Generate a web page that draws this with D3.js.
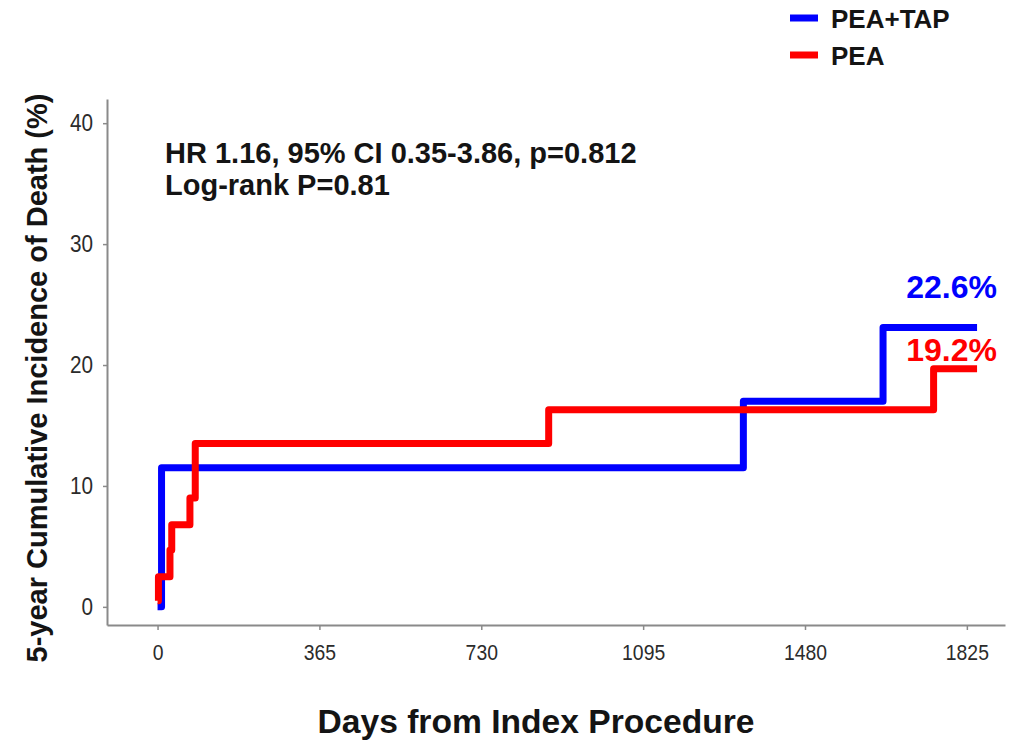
<!DOCTYPE html>
<html>
<head>
<meta charset="utf-8">
<script src="https://cdn.jsdelivr.net/npm/d3@7"></script>
<style>
  html, body { margin: 0; padding: 0; background: #ffffff; }
  svg { display: block; }
  text { font-family: "Liberation Sans", Arial, Helvetica, sans-serif; }
</style>
</head>
<body>
<svg id="chart" width="1010" height="746"></svg>
<script>
// ---- data ----
const seriesNames = ["PEA+TAP", "PEA"];
const seriesColors = ["#0000ff", "#ff0000"];
const tapDays   = [0, 9, 1321, 1636, 1848];
const tapValues = [0, 11.5, 17.0, 23.1, 23.1];
const peaDays   = [0, 2, 28, 32, 73, 85, 882, 1750, 1848];
const peaValues = [0.5, 2.5, 4.7, 6.8, 9.0, 13.5, 16.3, 19.7, 19.7];
const xTickValues = [0, 365, 730, 1095, 1460, 1825];
const xTickLabels = ["0", "365", "730", "1095", "1480", "1825"];
const yTickValues = [0, 10, 20, 30, 40];
const endLabels = ["22.6%", "19.2%"];
const annotationLines = ["HR 1.16, 95% CI 0.35-3.86, p=0.812", "Log-rank P=0.81"];
const xTitle = "Days from Index Procedure";
const yTitle = "5-year Cumulative Incidence of Death (%)";

// ---- layout ----
const svg = d3.select("#chart");
const x = d3.scaleLinear().domain([-114, 1911]).range([107, 1005]);
const y = d3.scaleLinear().domain([-1.5, 42]).range([625, 99]);

const axisColor = "#8a8a8a";
const tickTextColor = "#2b2b2b";

// x axis
const xAxis = d3.axisBottom(x)
  .tickValues(xTickValues)
  .tickFormat((d, i) => xTickLabels[i])
  .tickSizeInner(5).tickSizeOuter(0).tickPadding(14);
const gx = svg.append("g").attr("transform", `translate(0,${y(-1.5)})`).call(xAxis);
gx.select(".domain").attr("stroke", axisColor).attr("stroke-width", 2);
gx.selectAll(".tick line").attr("stroke", axisColor).attr("stroke-width", 1.5);
gx.selectAll(".tick text")
  .attr("fill", tickTextColor)
  .style("font-size", "22px")
  .each(function() {
    const w = this.getComputedTextLength();
    d3.select(this).attr("textLength", w * 0.88).attr("lengthAdjust", "spacingAndGlyphs");
  });

// y axis
const yAxis = d3.axisLeft(y)
  .tickValues(yTickValues)
  .tickFormat(d3.format("d"))
  .tickSizeInner(4).tickSizeOuter(0).tickPadding(10);
const gy = svg.append("g").attr("transform", `translate(${x(-114)},0)`).call(yAxis);
gy.select(".domain").attr("stroke", axisColor).attr("stroke-width", 2);
gy.selectAll(".tick line").attr("stroke", axisColor).attr("stroke-width", 1.5);
gy.selectAll(".tick text")
  .attr("fill", tickTextColor)
  .style("font-size", "23px")
  .each(function() {
    const w = this.getComputedTextLength();
    d3.select(this).attr("textLength", w * 0.9).attr("lengthAdjust", "spacingAndGlyphs");
  });

// step lines
const line = d3.line()
  .x(d => x(d[0]))
  .y(d => y(d[1]))
  .curve(d3.curveStepAfter);

const tapPts = tapDays.map((d, i) => [d, tapValues[i]]);
const peaPts = peaDays.map((d, i) => [d, peaValues[i]]);

svg.append("path").datum(tapPts)
  .attr("d", line).attr("fill", "none")
  .attr("stroke", seriesColors[0]).attr("stroke-width", 7)
  .attr("stroke-linejoin", "round").attr("stroke-linecap", "butt");
svg.append("path").datum(peaPts)
  .attr("d", line).attr("fill", "none")
  .attr("stroke", seriesColors[1]).attr("stroke-width", 7)
  .attr("stroke-linejoin", "round").attr("stroke-linecap", "butt");

// end labels
const endX = 997;
svg.append("text").text(endLabels[0])
  .attr("x", endX).attr("y", 298).attr("text-anchor", "end")
  .attr("fill", seriesColors[0]).style("font-size", "32px").style("font-weight", "bold");
svg.append("text").text(endLabels[1])
  .attr("x", endX).attr("y", 361).attr("text-anchor", "end")
  .attr("fill", seriesColors[1]).style("font-size", "32px").style("font-weight", "bold");

// annotation
svg.selectAll("text.annot").data(annotationLines).enter().append("text")
  .attr("class", "annot")
  .attr("x", 165).attr("y", (d, i) => 163 + i * 32)
  .attr("fill", "#141414")
  .style("font-size", "29px").style("font-weight", "bold")
  .text(d => d);

// legend
const legend = svg.append("g");
seriesNames.forEach((name, i) => {
  const cy = 18 + i * 37;
  legend.append("line")
    .attr("x1", 790).attr("x2", 818).attr("y1", cy).attr("y2", cy)
    .attr("stroke", seriesColors[i]).attr("stroke-width", 7);
  legend.append("text").text(name)
    .attr("x", 831).attr("y", cy + 10)
    .attr("fill", "#141414")
    .style("font-size", "26px").style("font-weight", "bold");
});

// axis titles
const xt = svg.append("text").text(xTitle)
  .attr("x", 536).attr("y", 733).attr("text-anchor", "middle")
  .attr("fill", "#141414")
  .style("font-size", "34px").style("font-weight", "bold");
xt.attr("textLength", 437).attr("lengthAdjust", "spacingAndGlyphs");

svg.append("text").text(yTitle)
  .attr("transform", "translate(47,378) rotate(-90)")
  .attr("text-anchor", "middle")
  .attr("fill", "#141414")
  .style("font-size", "29px").style("font-weight", "bold");
</script>
</body>
</html>
